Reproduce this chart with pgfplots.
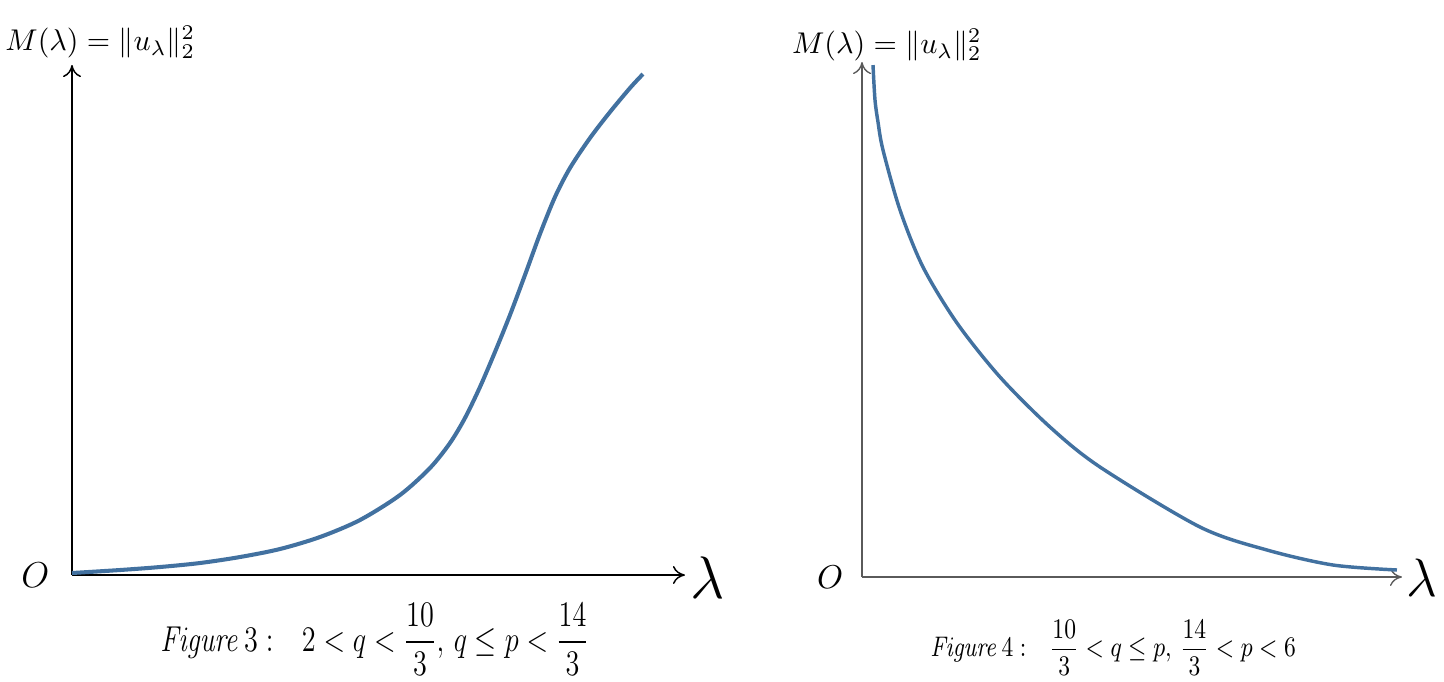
\RequirePackage{fix-cm}
\documentclass[border=0pt]{standalone}
\usepackage{graphicx}
\usepackage{amsmath,amssymb}
\usepackage{pgfplots}
\pgfplotsset{compat=1.18}
\usetikzlibrary{arrows.meta}
\definecolor{curveblue}{RGB}{66,113,160}
\definecolor{axisgrey}{RGB}{90,90,90}

\pgfplotsset{
  sketch/.style={
    anchor=origin, x=0.3333pt, y=0.3333pt,
    axis lines=left, ticks=none, enlargelimits=false, clip=false,
    xmin=0, ymin=0,
    ylabel style={rotate=-90, anchor=center},
    xlabel style={anchor=center},
  },
}

\begin{document}
\begin{tikzpicture}
\useasboundingbox (0,-227.33pt) rectangle (481.33pt,0);

% Figure 3
\begin{axis}[sketch,
    at={(24pt,-191.67pt)},
    xmax=613, ymax=510,
    axis line style={black, line width=0.5pt, -{To[length=4pt,width=6pt]}},
    xlabel={\fontsize{20}{22}\selectfont$\lambda$},
    xlabel style={at={(axis description cs:1.037,-0.006)}},
    ylabel={\fontsize{10}{12}\selectfont$M(\lambda)=\|u_\lambda\|_2^2$},
    ylabel style={at={(axis description cs:0.046,1.045)}},
    extra description/.code={
      \node at (axis description cs:-0.06,0) {\fontsize{12}{14}\selectfont$O$};
      \node at (axis description cs:0.494,-0.127) {\fontsize{12}{14}\selectfont
        \scalebox{0.785}[1]{$\mathit{Figure}\,3:$\quad$2<q<\dfrac{10}{3},\,q\le p<\dfrac{14}{3}$}};
    },
  ]
  \addplot[curveblue, line width=1.35pt, smooth] coordinates {
    (0,2) (48,5) (88,8) (128,12) (168,18) (208,26) (248,38) (288,55)
    (328,80) (358,107) (378,132) (393,157) (408,188) (423,223) (438,260)
    (453,300) (468,341) (483,378) (498,407) (518,437) (538,463) (558,487)
    (571,501)
  };
\end{axis}

% Figure 4
\begin{axis}[sketch,
    at={(287.33pt,-192.33pt)},
    xmax=540, ymax=515,
    axis line style={axisgrey, line width=0.45pt, -{To[length=4pt,width=6pt]}},
    xlabel={\fontsize{18}{20}\selectfont$\lambda$},
    xlabel style={at={(axis description cs:1.037,-0.002)}},
    ylabel={\fontsize{10}{12}\selectfont$M(\lambda)=\|u_\lambda\|_2^2$},
    ylabel style={at={(axis description cs:0.046,1.033)}},
    extra description/.code={
      \node at (axis description cs:-0.059,0) {\fontsize{11}{13}\selectfont$O$};
      \node at (axis description cs:0.465,-0.138) {\fontsize{9}{11}\selectfont
        \scalebox{0.85}[1.05]{$\mathit{Figure}\,4:$\quad$\dfrac{10}{3}<q\le p,\,\dfrac{14}{3}<p<6$}};
    },
  ]
  \addplot[curveblue, line width=1.15pt, smooth] coordinates {
    (11,512) (13,477) (16,455) (21,427) (38,367) (61,310) (95,254)
    (138,200) (188,150) (238,110) (338,50) (405,27) (471,12) (535,7)
  };
\end{axis}
\end{tikzpicture}
\end{document}
